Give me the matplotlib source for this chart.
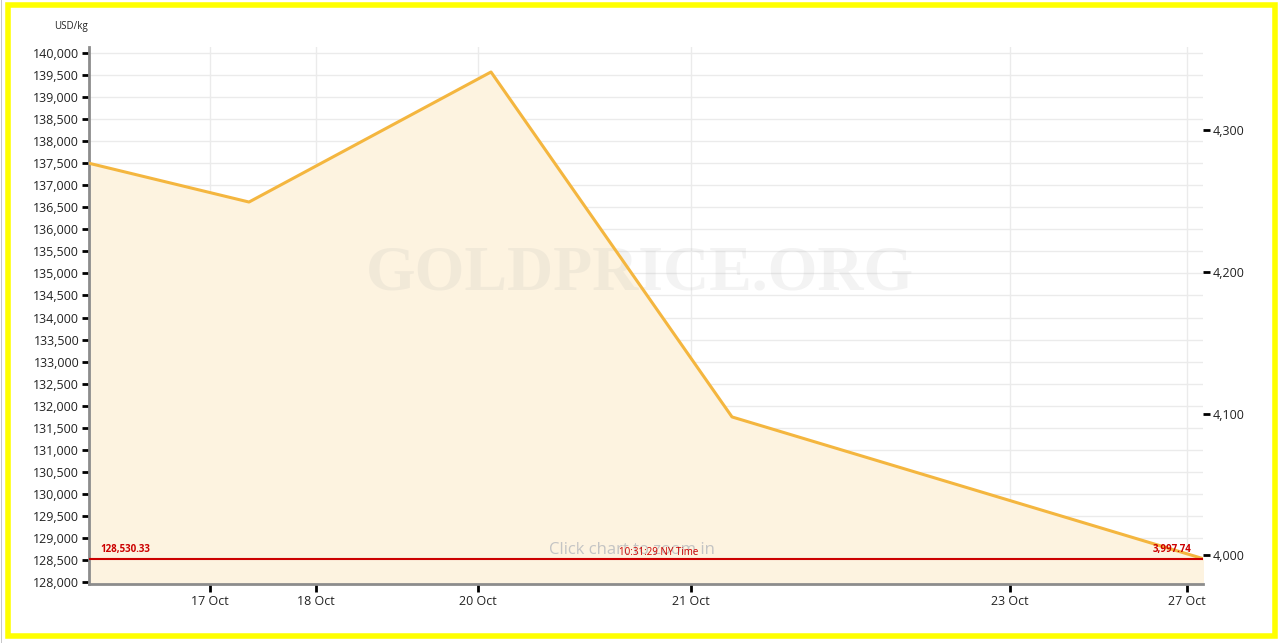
import matplotlib
matplotlib.use("Agg")
import matplotlib.pyplot as plt
from matplotlib.patches import Rectangle
from matplotlib.ticker import FuncFormatter, MultipleLocator, FixedLocator

plt.rcParams['font.family'] = ['Open Sans', 'DejaVu Sans']

# Gold price, USD/kg (x is the chart's own session scale, not calendar time)
x_points = [0.0, 16.0, 40.2, 64.3, 111.4]
price_kg = [137500, 136620, 139570, 131745, 128530.33]

tick_pos = [12.1, 22.7, 38.9, 60.2, 92.1, 109.8]
tick_labels = ["17 Oct", "18 Oct", "20 Oct", "21 Oct", "23 Oct", "27 Oct"]

current_kg = 128530.33
current_oz = 3997.74
time_label = "10:31:29 NY Time"
OZ_PER_KG = 32.1507

LINE = "#f4b63f"
FILL = "#fdf3e0"
RED = "#cc0000"

fig = plt.figure(figsize=(12.8, 6.43), dpi=100)
ax = fig.add_axes([89 / 1280, 1 - 584 / 643, (1203 - 89) / 1280, (584 - 47) / 643])

ax.fill_between(x_points, price_kg, 127000, color=FILL, zorder=1)
ax.plot(x_points, price_kg, color=LINE, lw=2.2, zorder=3)
ax.axhline(current_kg, color=RED, lw=1.5, zorder=4)

ax.set_xlim(0, 111.4)
ax.set_ylim(127955, 140137)

ax.yaxis.set_major_locator(MultipleLocator(500))
ax.yaxis.set_major_formatter(FuncFormatter(lambda v, p: f"{v:,.0f}"))
ax.xaxis.set_major_locator(FixedLocator(tick_pos))
ax.set_xticklabels(tick_labels)

ax.grid(True, color="#ebebeb", lw=1, zorder=0)
ax.set_axisbelow(True)
for s in ["top", "right"]:
    ax.spines[s].set_visible(False)
for s in ["left", "bottom"]:
    ax.spines[s].set_color("#8c8c8c")
    ax.spines[s].set_linewidth(2)
ax.tick_params(axis="y", length=5, width=2, color="black", labelsize=9,
               pad=2, labelcolor="#222222")
ax.tick_params(axis="x", length=6, width=2, color="black", labelsize=9,
               pad=2, labelcolor="#222222")

# right axis in USD/oz
sec = ax.secondary_yaxis("right", functions=(lambda v: v / OZ_PER_KG,
                                             lambda v: v * OZ_PER_KG))
sec.yaxis.set_major_locator(MultipleLocator(100))
sec.yaxis.set_major_formatter(FuncFormatter(lambda v, p: f"{v:,.0f}"))
sec.spines["right"].set_visible(False)
sec.tick_params(length=5, width=2, color="black", labelsize=9, pad=2,
                labelcolor="#222222")

# labels on the current-price line
ax.text(1.1, current_kg + 90, f"{current_kg:,.2f}", color=RED, fontsize=7,
        fontweight="bold", ha="left", va="bottom", zorder=5)
ax.text(110.2, current_kg + 90, f"{current_oz:,.2f}", color=RED, fontsize=7,
        fontweight="bold", ha="right", va="bottom", zorder=5)
ax.text(0.487, 0.063, "Click chart to zoom in", transform=ax.transAxes,
        color="#c4c4c4", fontsize=12, ha="center", va="center", zorder=5)
ax.text(0.511, 0.058, time_label, transform=ax.transAxes, color=RED,
        fontsize=7, ha="center", va="center", zorder=6)

# watermark
ax.text(0.495, 0.576, "GOLDPRICE.ORG", transform=ax.transAxes,
        family="Liberation Serif", fontweight="bold", fontsize=46,
        color="#b0b0b0", alpha=0.15, ha="center", va="center", zorder=2)

fig.text(88 / 1280, 1 - 26 / 643, "USD/kg", fontsize=7, ha="right",
         va="center", color="#222222")

# yellow frame and the thin grey edge outside it
fig.add_artist(Rectangle((1 / 1280, 0), 0.5 / 1280, 1, transform=fig.transFigure,
                         facecolor="#c8c8c8", edgecolor="none"))
fig.add_artist(Rectangle((7.5 / 1280, 1 - 635.5 / 643), (1274.5 - 7.5) / 1280,
                         (635.5 - 5) / 643, transform=fig.transFigure,
                         fill=False, edgecolor="#ffff00", lw=4))

fig.savefig("out.png", dpi=100)
